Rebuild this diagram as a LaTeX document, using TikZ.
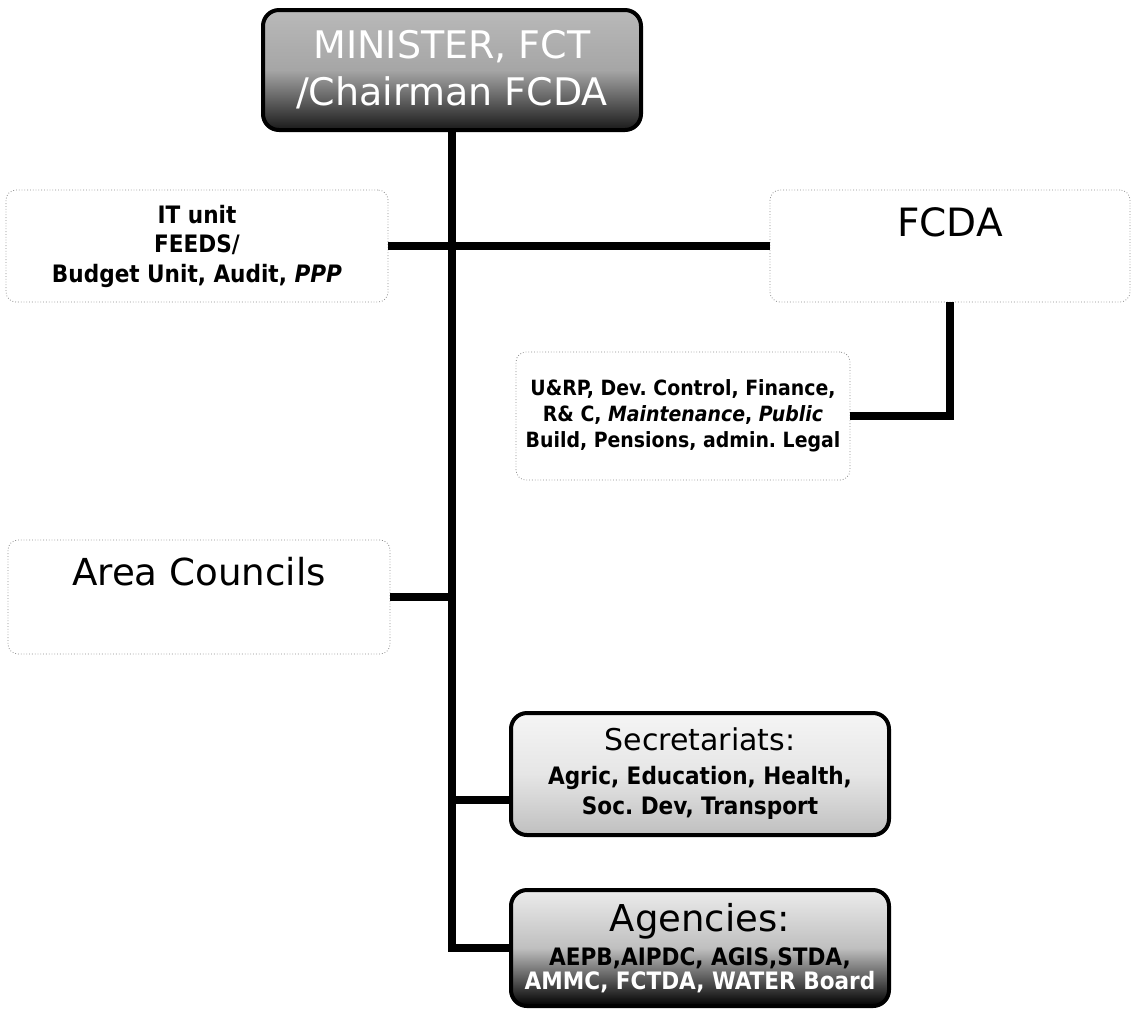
\documentclass[tikz,border=0pt]{standalone}
\usepackage{fontspec}
\setmainfont{DejaVu Sans}
\newfontfamily\condfont{DejaVu Sans Condensed}
\newcommand\boldsmall{\condfont\bfseries\fontsize{12}{13}\selectfont}
\frenchspacing
\begin{document}
\begin{tikzpicture}[x=0.5pt,y=-0.5pt]
			\tikzset{faint/.style = {draw=black!45, densely dotted, rounded corners=5pt, align=center, inner sep=0pt}}
			\tikzset{dark/.style = {draw=black, line width=2pt, rounded corners=8pt, align=center, inner sep=0pt}}
			\tikzset{link/.style = {line width=4pt}}
			\tikzset{small/.style = {font=\condfont\bfseries\fontsize{12}{14.75}\selectfont}}
			\useasboundingbox (0,0) rectangle (1136,1009);
			% Draw boxes
			\node[dark, minimum width=189pt, minimum height=60pt, top color=gray!55, bottom color=black!90, middle color=gray!70, text=white, font=\fontsize{19}{23.5}\selectfont] (minister) at (452,70) {MINISTER, FCT\\/Chairman FCDA};
			\node[faint, small, minimum width=191pt, minimum height=56pt] (itunit) at (197,246) {IT unit\\FEEDS/\\Budget Unit, Audit, \textit{PPP}};
			\node[faint, minimum width=180pt, minimum height=56pt, font=\fontsize{19.5}{23}\selectfont, text height=14pt, text depth=24pt] (fcda) at (950,246) {FCDA};
			\node[faint, small, font=\condfont\bfseries\fontsize{10.5}{13}\selectfont, minimum width=167pt, minimum height=64pt] (urp) at (683,416) {U\&RP, Dev. Control, Finance,\\R\& C, \textit{Maintenance}, \textit{Public}\\Build, Pensions, admin. Legal};
			\node[faint, minimum width=191pt, minimum height=57pt, font=\fontsize{18.6}{22}\selectfont, text height=13.6pt, text depth=25pt] (area) at (199,597) {Area Councils};
			\node[dark, minimum width=189pt, minimum height=61pt, top color=gray!8, bottom color=gray!50, middle color=gray!20] (sec) at (700,774) {\fontsize{15}{18}\selectfont Secretariats:\\[5pt]\boldsmall Agric, Education, Health,\\[3pt]\boldsmall Soc. Dev, Transport};
			\node[dark, minimum width=189pt, minimum height=58pt, top color=gray!15, bottom color=black, middle color=gray!50] (agen) at (700,948) {\fontsize{18.5}{20}\selectfont Agencies:\\[3pt]\boldsmall AEPB,AIPDC, AGIS,STDA,\\\boldsmall\color{white} AMMC, FCTDA, WATER Board};
			% Draw links
			\draw[link] (minister.south) |- (agen.west);
			\draw[link] (itunit.east) -- (fcda.west);
			\draw[link] (fcda.south) |- (urp.east);
			\draw[link] (area.east) -- (area.east -| minister.south);
			\draw[link] ([yshift=-13pt]sec.west) -- ([yshift=-13pt]sec.west -| minister.south);
\end{tikzpicture}
\end{document}
